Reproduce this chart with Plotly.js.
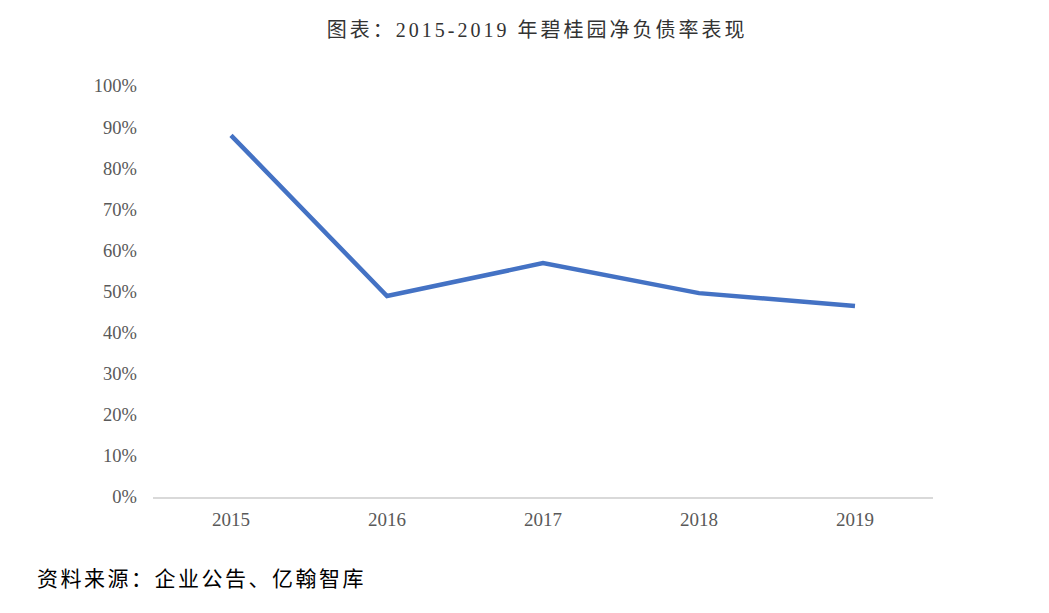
<!DOCTYPE html>
<html>
<head>
<meta charset="utf-8">
<script src="https://cdn.plot.ly/plotly-3.0.1.min.js"></script>
<style>
html,body{margin:0;padding:0;background:#fff;}
#chart .gtitle{letter-spacing:3px;}
#chart .annotation-text{letter-spacing:2.5px;}
</style>
</head>
<body>
<div id="chart" style="width:1049px;height:613px;"></div>
<script>
const years = ['2015', '2016', '2017', '2018', '2019'];
const netDebtRatio = [0.88, 0.489, 0.569, 0.496, 0.465];
const yTicks = [0, 0.1, 0.2, 0.3, 0.4, 0.5, 0.6, 0.7, 0.8, 0.9, 1.0];
const yTickLabels = ['0%', '10%', '20%', '30%', '40%', '50%', '60%', '70%', '80%', '90%', '100%'];
const chartTitle = '图表：2015-2019 年碧桂园净负债率表现';
const sourceNote = '资料来源：企业公告、亿翰智库';

const serif = '"Liberation Serif", "Noto Sans CJK SC", serif';

Plotly.newPlot('chart', [{
  x: years,
  y: netDebtRatio,
  type: 'scatter',
  mode: 'lines',
  line: {color: '#4472C4', width: 4.5},
  hoverinfo: 'x+y'
}], {
  width: 1049,
  height: 613,
  paper_bgcolor: '#ffffff',
  plot_bgcolor: '#ffffff',
  margin: {l: 153, r: 116, t: 86, b: 116},
  title: {
    text: chartTitle,
    font: {family: serif, size: 20, color: '#333333'},
    x: 0.512, xanchor: 'center', y: 0.951, yanchor: 'middle'
  },
  showlegend: false,
  xaxis: {
    type: 'category',
    range: [-0.5, 4.5],
    showgrid: false,
    zeroline: false,
    showline: true,
    linecolor: '#d9d9d9',
    linewidth: 1.5,
    ticks: '',
    tickfont: {family: serif, size: 19, color: '#595959'},
    ticklabelstandoff: 5
  },
  yaxis: {
    range: [0, 1.0],
    tickvals: yTicks,
    ticktext: yTickLabels,
    showgrid: false,
    zeroline: false,
    showline: false,
    ticks: '',
    tickfont: {family: serif, size: 18.5, color: '#595959'},
    ticklabelstandoff: 15
  },
  annotations: [{
    text: sourceNote,
    xref: 'paper', yref: 'paper',
    x: -153/780 + 35/780, xanchor: 'left', align: 'left',
    y: -80/411, yanchor: 'middle',
    showarrow: false,
    font: {family: '"Noto Sans CJK SC", sans-serif', size: 21, color: '#000000'}
  }]
}, {displayModeBar: false, staticPlot: true});
</script>
</body>
</html>
